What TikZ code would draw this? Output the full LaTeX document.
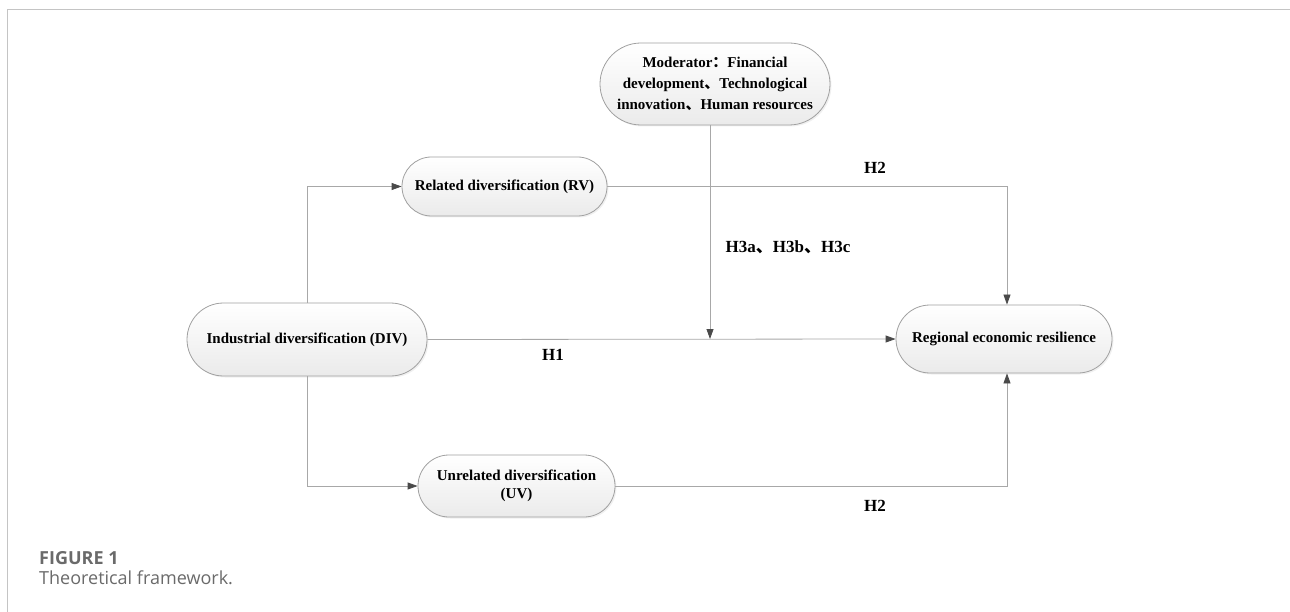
\documentclass[tikz,border=0pt]{standalone}
\usepackage{fontspec}
\setmainfont{Liberation Serif}
\newfontfamily\cjk{Noto Sans CJK SC}
\newfontfamily\capfont{Open Sans}
\usetikzlibrary{shapes.misc,shadows,arrows.meta}
\definecolor{linegray}{HTML}{A8A8A8}
\definecolor{tipgray}{HTML}{4A4A4A}
\definecolor{boxline}{HTML}{A0A0A0}
\definecolor{capgray}{HTML}{6A6A6A}
\definecolor{framegray}{HTML}{C4C4C4}
\tikzset{
  pill/.style={rounded rectangle, draw=boxline, line width=0.8pt, inner sep=0pt,
    top color=white, bottom color=black!8, align=center,
    font=\bfseries\fontsize{15}{18}\selectfont,
    drop shadow={opacity=0.12, shadow xshift=1.5pt, shadow yshift=-1.5pt}},
  conn/.style={draw=linegray, line width=0.8pt},
  arr/.style={conn, -{Triangle[length=10pt,width=7pt,fill=tipgray,color=tipgray]}},
  lab/.style={font=\bfseries\fontsize{17}{19}\selectfont, inner sep=0pt}
}
\begin{document}
\begin{tikzpicture}[x=1pt,y=-1pt]
\useasboundingbox (0,0) rectangle (1290,612);
% frame
\draw[framegray, line width=1pt] (7,612) -- (7,10) -- (1290,10);
% nodes
\node[pill, minimum width=230pt, minimum height=82pt, font=\bfseries\fontsize{15}{21}\selectfont] (mod) at (715,84)
  {Moderator{\cjk ：}Financial\\development{\cjk 、}Technological\\innovation{\cjk 、}Human resources};
\node[pill, minimum width=205pt, minimum height=59pt] (rv) at (504.5,186.5) {Related diversification (RV)};
\node[pill, minimum width=240pt, minimum height=73pt] (div) at (307,339.5) {Industrial diversification (DIV)};
\node[pill, minimum width=216pt, minimum height=68pt] (rer) at (1004,339) {Regional economic resilience};
\node[pill, minimum width=197pt, minimum height=62pt] (uv) at (516.5,486) {Unrelated diversification\\(UV)};
% helper coordinates
\coordinate (rvturn) at (1007,186.5);
\coordinate (uvturn) at (1007,486);
\coordinate (modhit) at (710,339);
% connectors
\draw[arr] (div.north) |- (rv.west);
\draw[arr] (div.south) |- (uv.west);
\draw[arr] (div.east) -- (rer.west);
\draw[arr] (rv.east) -- (rvturn) -- (rvturn |- rer.north);
\draw[arr] (uv.east) -- (uvturn) -- (uvturn |- rer.south);
\draw[arr] (mod.south -| modhit) -- (modhit);
% labels
\node[lab] (h1) at (553,355) {H1};
\node[lab] (h2a) at (875,168) {H2};
\node[lab] (h2b) at (875,506) {H2};
\node[lab] (h3) at (788,247) {H3a{\cjk 、}H3b{\cjk 、}H3c};
% caption
\node[anchor=west, inner sep=0pt, text=capgray, font=\capfont\bfseries\fontsize{18}{20}\selectfont] (fig) at (39,558) {FIGURE 1};
\node[anchor=west, inner sep=0pt, text=capgray, font=\capfont\fontsize{18}{20}\selectfont] (cap) at (39,578) {Theoretical framework.};
\end{tikzpicture}
\end{document}
